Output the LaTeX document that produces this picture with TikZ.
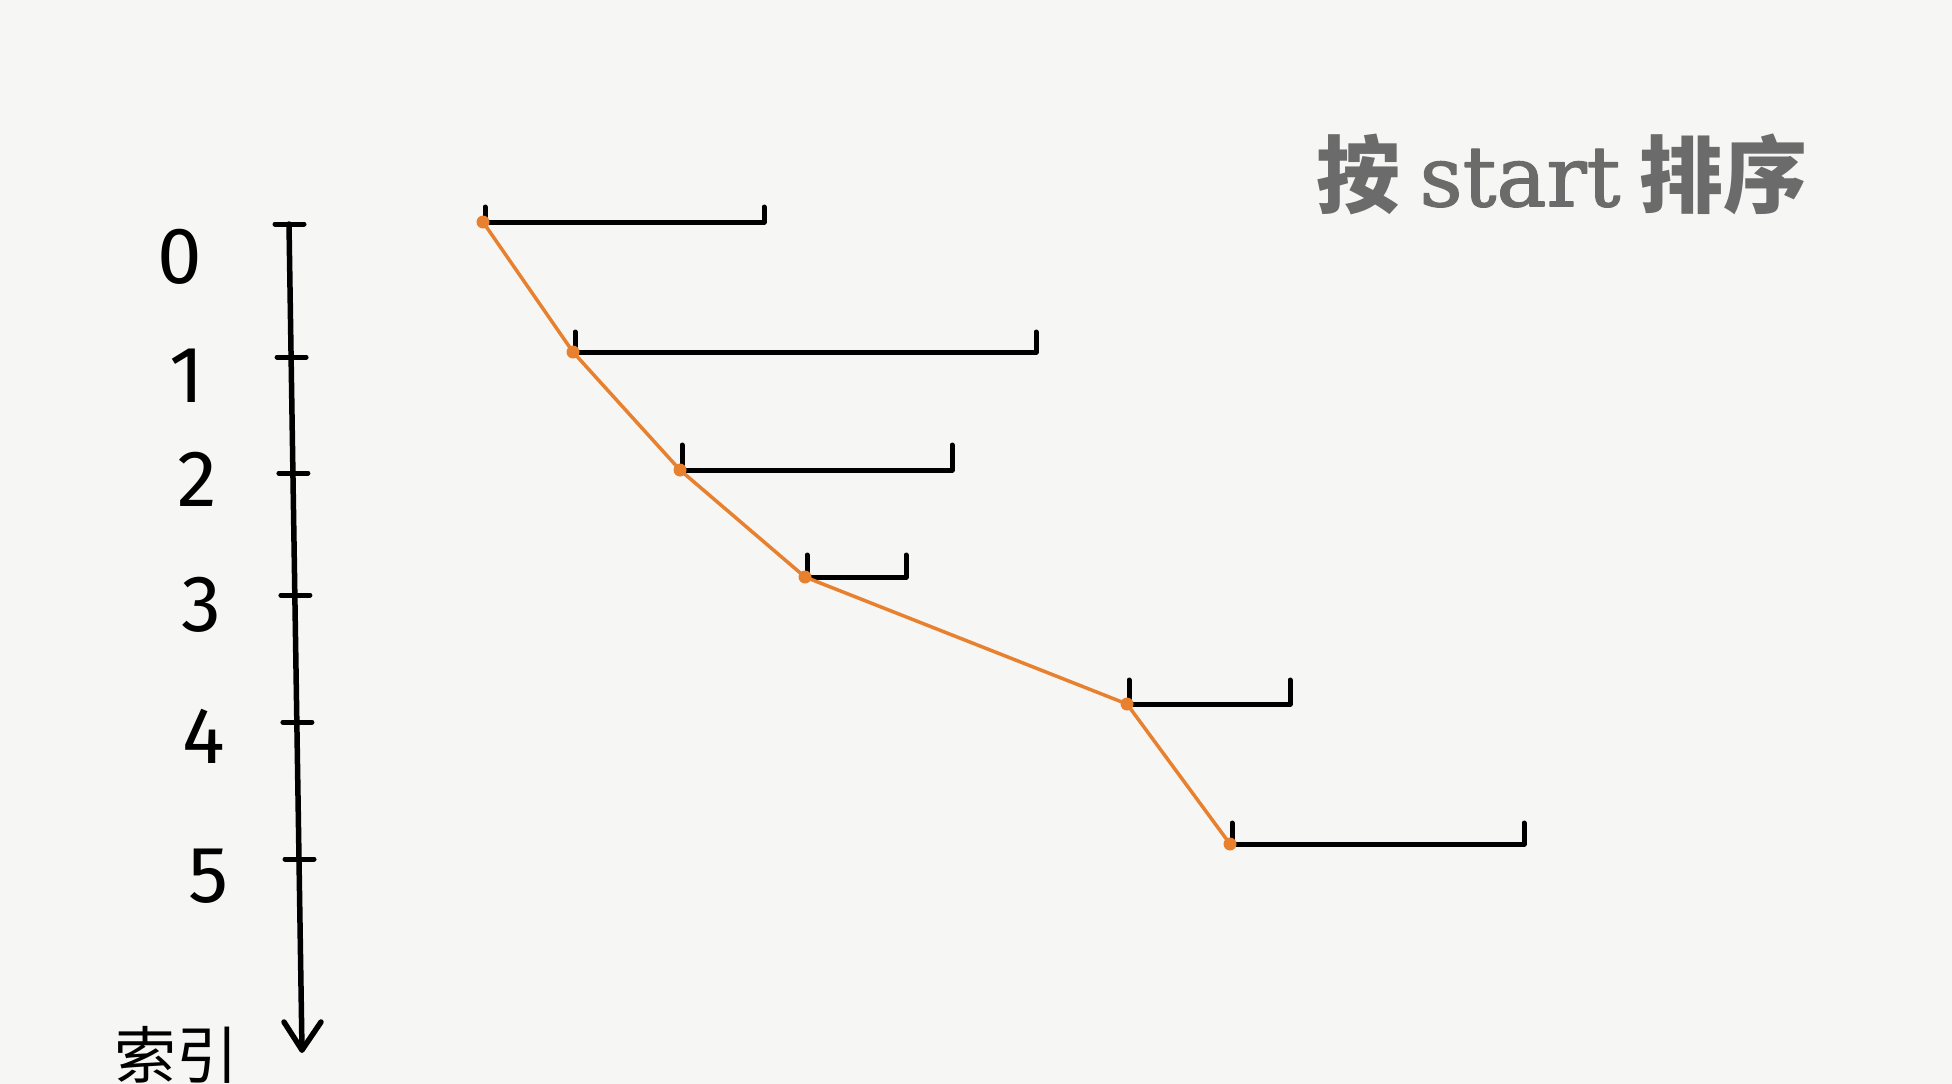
\documentclass[tikz,border=0pt]{standalone}
\usepackage{fontspec}
\newfontfamily\cjk{Noto Sans CJK SC}
\newfontfamily\titleserif[FakeBold=1.5]{DejaVu Serif}
\newfontfamily\digitfont{Fira Sans}
\definecolor{bg}{HTML}{F6F6F4}
\definecolor{org}{HTML}{E8812F}
\definecolor{ttl}{HTML}{6B6B6B}
\begin{document}
\begin{tikzpicture}[x=1pt,y=-1pt,line cap=round,line join=round,
  bar/.style={line width=5pt,black},
  axisline/.style={line width=5.5pt,black},
  dot/.style={circle,fill=org,inner sep=0pt,minimum size=13pt},
  link/.style={org,line width=3.5pt},
  idx/.style={font=\digitfont\fontsize{80}{90}\selectfont},
  ttlstyle/.style={text=ttl,font=\cjk\bfseries\fontsize{84}{94}\selectfont,inner sep=0pt}]
\fill[bg] (0,0) rectangle (1952,1084);
\useasboundingbox (0,0) rectangle (1952,1084);

% title
\node[ttlstyle] (title) at (1562,174) {按 {\titleserif\mdseries start} 排序};

% axis
\coordinate (atop) at (289,224);
\coordinate (abot) at (302,1050);
\coordinate (awl) at (284,1022);
\coordinate (awr) at (321,1022);
\draw[axisline] (atop) -- (abot);
\draw[axisline] (awl) -- (abot) -- (awr);
\foreach \y/\x [count=\i from 0] in {224/289,357/291.1,473/292.9,595/294.9,722/296.9,859/299} {
  \coordinate (tl\i) at (\x-14,\y);
  \coordinate (tr\i) at (\x+15,\y);
  \draw[line width=5pt] (tl\i) -- (tr\i);
}
\node[idx] (n0) at (180,257) {0};
\node[idx] (n1) at (187,376) {1};
\node[idx] (n2) at (197,479) {2};
\node[idx] (n3) at (201,605) {3};
\node[idx] (n4) at (204,736) {4};
\node[idx] (n5) at (209,876) {5};
\node[font=\cjk\fontsize{62}{70}\selectfont,inner sep=0pt] (lab) at (176,1055) {索引};

% intervals
\foreach \sx/\ex/\y/\h [count=\i from 0] in {483/764/222/15, 573/1036/352/20, 680/952/470/25, 805/906/577/22, 1127/1290/704/24, 1230/1524/844/21} {
  \coordinate (s\i) at (\sx,\y);
  \coordinate (e\i) at (\ex,\y);
  \coordinate (su\i) at (\sx+2,\y-\h);
  \coordinate (eu\i) at (\ex,\y-\h);
  \draw[bar] (su\i) -- (\sx+2,\y) -- (e\i) -- (eu\i);
}
% orange path
\draw[link] (s0) -- (s1) -- (s2) -- (s3) -- (s4) -- (s5);
\foreach \i in {0,...,5} { \node[dot] (d\i) at (s\i) {}; }
\end{tikzpicture}
\end{document}
